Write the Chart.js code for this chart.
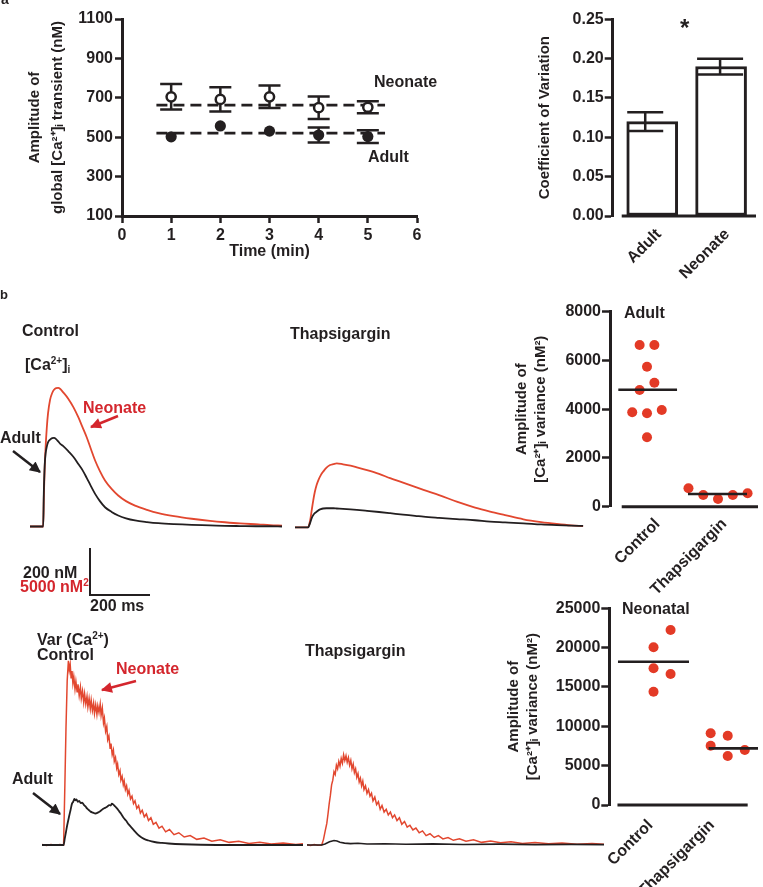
<!DOCTYPE html>
<html lang="en">
<head>
<meta charset="UTF-8">
<title>Global Ca2+ transients and variance</title>
<script src="https://cdn.jsdelivr.net/npm/chart.js@4.4.1/dist/chart.umd.min.js"></script>
<style>
  body { margin: 0; background: #fff; }
  #fig { position: relative; width: 763px; height: 887px; overflow: hidden;
         font-family: "Liberation Sans", Arial, Helvetica, sans-serif; font-weight: bold; color: #231f20; }
  #fig canvas { position: absolute; }
  #fig svg { position: absolute; left: 0; top: 0; }
  .t { position: absolute; font-size: 16px; line-height: 16px; white-space: nowrap; }
  .red { color: #d4262d; }
  .t sup { font-size: 10px; line-height: 0; vertical-align: 6px; }
  .t sub { font-size: 10px; line-height: 0; vertical-align: -3px; }
</style>
</head>
<body>
<div id="fig">
  <canvas id="ampChart" width="440" height="275" style="left:0;top:0"></canvas>
  <canvas id="cvChart" width="323" height="290" style="left:440px;top:0"></canvas>
  <canvas id="caCtrl" width="253" height="230" style="left:30px;top:370px"></canvas>
  <canvas id="caThap" width="292" height="95" style="left:295px;top:440px"></canvas>
  <canvas id="varCtrl" width="263" height="205" style="left:42px;top:650px"></canvas>
  <canvas id="varThap" width="298" height="115" style="left:307px;top:740px"></canvas>
  <canvas id="adultDots" width="263" height="305" style="left:500px;top:290px"></canvas>
  <canvas id="neoDots" width="263" height="307" style="left:500px;top:580px"></canvas>

  <svg width="763" height="887">
    <defs>
      <marker id="headK" viewBox="0 0 10 10" refX="9" refY="5" markerWidth="13" markerHeight="11" markerUnits="userSpaceOnUse" orient="auto">
        <path d="M0,0 L10,5 L0,10 z" fill="#231f20"/>
      </marker>
      <marker id="headR" viewBox="0 0 10 10" refX="9" refY="5" markerWidth="13" markerHeight="11" markerUnits="userSpaceOnUse" orient="auto">
        <path d="M0,0 L10,5 L0,10 z" fill="#d4262d"/>
      </marker>
    </defs>
    <line x1="13" y1="451" x2="40" y2="472" stroke="#231f20" stroke-width="2.5" marker-end="url(#headK)"/>
    <line x1="118" y1="416" x2="91" y2="427" stroke="#d4262d" stroke-width="2.5" marker-end="url(#headR)"/>
    <line x1="136" y1="681" x2="102" y2="690" stroke="#d4262d" stroke-width="2.5" marker-end="url(#headR)"/>
    <line x1="33" y1="793" x2="60" y2="814" stroke="#231f20" stroke-width="2.5" marker-end="url(#headK)"/>
  </svg>

  <div class="t" style="left:1px;top:-9px;font-size:14px">a</div>
  <div class="t" style="left:0;top:287px;font-size:13px">b</div>
  <div class="t" style="left:374px;top:74px">Neonate</div>
  <div class="t" style="left:368px;top:149px">Adult</div>
  <div class="t" style="left:680px;top:16px;font-size:24px;line-height:24px">*</div>

  <div class="t" style="left:22px;top:323px">Control</div>
  <div class="t" style="left:25px;top:357px">[Ca<sup>2+</sup>]<sub>i</sub></div>
  <div class="t" style="left:290px;top:326px">Thapsigargin</div>
  <div class="t red" style="left:83px;top:400px">Neonate</div>
  <div class="t" style="left:0;top:430px">Adult</div>
  <div class="t" style="left:23px;top:565px">200 nM</div>
  <div class="t red" style="left:20px;top:579px">5000 nM<sup>2</sup></div>
  <div class="t" style="left:90px;top:598px">200 ms</div>
  <div class="t" style="left:37px;top:632px">Var (Ca<sup>2+</sup>)</div>
  <div class="t" style="left:37px;top:647px">Control</div>
  <div class="t red" style="left:116px;top:661px">Neonate</div>
  <div class="t" style="left:12px;top:771px">Adult</div>
  <div class="t" style="left:305px;top:643px">Thapsigargin</div>
  <div class="t" style="left:624px;top:305px">Adult</div>
  <div class="t" style="left:622px;top:601px">Neonatal</div>
</div>

<script>
// ---- a: amplitude of the global transient over time ----
const minutes = [1, 2, 3, 4, 5];
const neonateAmp = [705, 692, 705, 650, 652];
const neonateErr = [65, 62, 57, 57, 30];
const adultAmp = [502, 557, 531, 511, 503];
const adultErr = [8, 10, 6, 38, 32];
const neonateMean = 663;
const adultMean = 521;
const meanSpan = [0.7, 5.35];

// ---- a: coefficient of variation ----
const groups = ['Adult', 'Neonate'];
const cvMean = [0.120, 0.190];
const cvErr = [0.012, 0.010];

// ---- b: [Ca2+]i transients (nM above diastolic), time in ms ----
const caCtrlT = [0, 44, 46, 49, 52, 56, 60, 67, 74, 80, 87, 94, 101, 110, 128, 145, 161, 175, 189, 203,
  217, 233, 250, 272, 294, 320, 350, 390, 428, 480, 539, 600, 650, 700, 761, 800, 840];
const caCtrlNeonate = [0, 0, 120, 250, 337, 420, 480, 540, 568, 582, 589, 590, 585, 572, 543, 507, 465, 423, 380, 330,
  281, 236, 196, 160, 132, 108, 89, 71, 57, 44, 33, 24, 18, 13, 9, 6, 4];
const caCtrlAdult = [0, 0, 140, 260, 310, 340, 358, 370, 376, 377, 372, 362, 352, 343, 320, 296, 266, 240, 207, 172,
  139, 108, 82, 62, 47, 35, 26, 19, 14, 10, 7, 5, 3, 2, 1, 1, 0];

const caThapT = [0, 44, 48, 52, 56, 61, 66, 72, 78, 86, 94, 105, 117, 128, 139, 160, 185, 206, 240, 280,
  317, 360, 400, 428, 480, 539, 600, 650, 700, 761, 820, 872, 920, 960];
const caThapNeonate = [0, 0, 15, 40, 75, 116, 150, 180, 201, 222, 237, 254, 265, 269, 272, 268, 262, 255, 243, 227,
  209, 190, 172, 159, 137, 109, 84, 67, 52, 34, 22, 14, 8, 5];
const caThapAdult = [0, 0, 10, 25, 40, 52, 60, 66, 72, 77, 80, 81, 81, 81, 80, 78, 76, 74, 70, 65,
  60, 54, 49, 45, 40, 35, 30, 24, 21, 17, 12, 9, 7, 6];

// ---- b: variance of [Ca2+]i (nM^2), time in ms ----
const varCtrlNeoT = [0, 15, 30, 45, 60, 72, 76, 80, 84, 88, 91, 94, 97, 100, 103, 106, 110, 113, 117, 120,
  124, 128, 131, 135, 139, 142, 146, 150, 153, 157, 161, 164, 168, 172, 175, 179, 183, 186, 190, 194,
  197, 201, 205, 208, 212, 216, 219, 223, 227, 230, 234, 238, 241, 245, 249, 252, 256, 260, 263, 267,
  271, 274, 278, 282, 286, 290, 295, 300, 305, 310, 316, 322, 328, 334, 341, 348, 355, 363, 371, 380,
  390, 400, 412, 425, 440, 456, 474, 494, 516, 540, 566, 594, 624, 656, 690, 726, 764, 804, 846, 870];
const varCtrlNeo = [60, -40, 50, -30, 40, 0, 6000, 12500, 17500, 19600, 18600, 19200, 17800, 18500, 17200, 17900, 16600, 17400, 16300, 17100,
  15900, 16800, 15600, 16400, 15200, 16100, 15000, 15800, 14700, 15600, 14500, 15400, 14300, 15100, 14000, 14900, 13900, 14800, 14100, 15000,
  13800, 14600, 13000, 13500, 12100, 12600, 11200, 11600, 10300, 10800, 9600, 10100, 8900, 9300, 8200, 8600, 7500, 7900, 6900, 7300,
  6400, 6800, 5900, 6300, 5400, 5800, 4900, 5200, 4400, 4700, 3900, 4200, 3400, 3700, 3000, 3300, 2600, 2900, 2200, 2400,
  1800, 2000, 1400, 1650, 1100, 1300, 850, 1000, 600, 750, 400, 550, 280, 400, 170, 300, 100, 210, 60, 130];
const varCtrlAdultT = [0, 30, 60, 72, 76, 80, 84, 90, 95, 100, 104, 108, 111, 115, 119, 124, 129, 134, 139, 145,
  150, 155, 162, 170, 178, 186, 194, 202, 210, 218, 224, 229, 233, 238, 244, 250, 257, 264, 272, 280,
  289, 300, 311, 325, 340, 355, 375, 400, 422, 470, 530, 650, 870];
const varCtrlAdult = [0, 0, 0, 0, 700, 1400, 2100, 3000, 3700, 4400, 4600, 4900, 4750, 4850, 4600, 4700, 4450, 4500, 4300, 4100,
  3900, 3750, 3550, 3450, 3350, 3450, 3600, 3800, 3950, 4100, 4250, 4200, 4400, 4300, 4100, 3900, 3600, 3300, 2900, 2600,
  2200, 1800, 1400, 950, 650, 480, 320, 220, 160, 80, 25, 0, 0];

const varThapNeoT = [0, 12, 24, 36, 49, 55, 60, 66, 70, 74, 78, 82, 86, 90, 94, 98, 102, 106, 110, 114,
  118, 122, 126, 130, 134, 138, 142, 146, 150, 154, 158, 162, 166, 170, 174, 178, 182, 186, 190, 195,
  200, 205, 210, 215, 220, 226, 232, 238, 244, 250, 257, 264, 271, 278, 285, 292, 300, 308, 316, 325,
  334, 343, 353, 363, 374, 385, 397, 410, 424, 438, 453, 470, 488, 508, 530, 555, 582, 612, 645, 680,
  718, 760, 805, 850, 900, 950, 990];
const varThapNeo = [40, -40, 50, -30, 0, 600, 1400, 2300, 3300, 4400, 5300, 6400, 6900, 7800, 7500, 8500, 8100, 8900, 8400, 9200,
  8700, 9600, 9000, 9500, 8800, 9300, 8500, 9000, 8100, 8600, 7700, 8100, 7200, 7600, 6700, 7100, 6300, 6800, 5900, 6300,
  5500, 5900, 5200, 5500, 4700, 5100, 4300, 4600, 3800, 4200, 3500, 3800, 3200, 3500, 2900, 3200, 2600, 2900, 2200, 2500,
  1900, 2100, 1600, 1800, 1300, 1500, 1000, 1200, 800, 1000, 650, 800, 500, 650, 400, 550, 280, 420, 230, 340,
  150, 260, 120, 220, 80, 160, 90];
const varThapAdultT = [0, 49, 60, 75, 90, 100, 110, 125, 145, 170, 200, 260, 330, 420, 520, 640, 760, 880, 990];
const varThapAdult = [0, 0, 100, 350, 480, 420, 300, 200, 150, 180, 100, 130, 80, 120, 60, 90, 40, 70, 40];

// ---- b: amplitude of [Ca2+]i variance per cell (nM^2) ----
const conds = ['Control', 'Thapsigargin'];
const adultCtrlVar = [6634, 6634, 5744, 5087, 4787, 3872, 3831, 3967, 2846];
const adultCtrlSpread = [-1, 1, 0, 1, -1, -2, 0, 2, 0];
const adultThapVar = [755, 480, 315, 480, 550];
const adultThapSpread = [-4, -2, 0, 2, 4];
const adultLines = [4800, 520];
const neoCtrlVar = [22245, 20046, 17376, 16652, 14402];
const neoCtrlSpread = [2, 0, 0, 2, 0];
const neoThapVar = [9117, 8812, 7540, 6990, 6230];
const neoThapSpread = [-2, 0, -2, 2, 0];
const neoLines = [18200, 7200];

// ---------------------------------------------------------------
const INK = '#231f20';
const RED_TRACE = '#e2472f';
const RED_DOT = '#e33a26';

Chart.defaults.font.family = '"Liberation Sans", Arial, Helvetica, sans-serif';
Chart.defaults.font.weight = 'bold';
Chart.defaults.color = INK;
Chart.defaults.animation = false;
Chart.defaults.responsive = false;
Chart.defaults.plugins.legend.display = false;
Chart.defaults.plugins.tooltip.enabled = false;

const xy = (xs, ys) => xs.map((x, i) => ({ x, y: ys[i] }));
const fixW = w => s => { s.width = w; };
const fixH = h => s => { s.height = h; };
const plain = v => String(v);

function valueAxis(o) {
  return {
    type: 'linear', min: o.min, max: o.max,
    afterFit: fixW(o.w),
    border: { color: INK, width: 3 },
    grid: { drawOnChartArea: false, tickLength: o.tl, tickWidth: 2.5, tickColor: INK },
    ticks: { stepSize: o.step, padding: o.pad, color: INK, font: { size: 16, weight: 'bold' }, callback: o.fmt || plain },
    title: { display: true, text: o.title, color: INK,
             font: { size: 15, weight: 'bold', lineHeight: o.lh }, padding: { top: o.tp, bottom: 0 } }
  };
}

// category labels on a linear axis; o.at = where each rotated label is anchored
function groupAxis(o) {
  return {
    type: 'linear', min: o.min, max: o.max, offset: false,
    afterFit: fixH(o.h),
    afterBuildTicks: s => { s.ticks = o.at.map(value => ({ value })); },
    border: { display: false },
    grid: { offset: false, drawOnChartArea: false, drawTicks: false },
    ticks: { minRotation: 45, maxRotation: 45, autoSkip: false, padding: o.pad, color: INK,
             font: { size: 16, weight: 'bold' }, callback: (v, i) => o.labels[i] }
  };
}

// error bars; like Prism, bars shorter than the symbol (minLen px) are hidden
function drawErrors(chart, xs, ys, es, cap, shift, minLen) {
  const { ctx, scales: { x, y } } = chart;
  ctx.save();
  ctx.strokeStyle = INK;
  ctx.lineWidth = 2.5;
  xs.forEach((xv, i) => {
    const px = x.getPixelForValue(xv) + (shift ? shift[i] : 0);
    const c = Array.isArray(cap) ? cap[i] : cap;
    const top = y.getPixelForValue(ys[i] + es[i]);
    const bot = y.getPixelForValue(ys[i] - es[i]);
    if (minLen && (bot - top) / 2 < minLen) return;
    ctx.beginPath();
    ctx.moveTo(px, top); ctx.lineTo(px, bot);
    ctx.moveTo(px - c, top); ctx.lineTo(px + c, top);
    ctx.moveTo(px - c, bot); ctx.lineTo(px + c, bot);
    ctx.stroke();
  });
  ctx.restore();
}

// x axis drawn as a separate line that starts right of the y axis (Prism style)
const baseLine = {
  id: 'baseLine',
  beforeDatasetsDraw(chart, args, opts) {
    const { ctx, scales: { x, y } } = chart;
    const py = y.getPixelForValue(0);
    ctx.save();
    ctx.strokeStyle = INK;
    ctx.lineWidth = 3;
    ctx.beginPath();
    ctx.moveTo(x.getPixelForValue(opts.from), py);
    ctx.lineTo(x.getPixelForValue(opts.to), py);
    ctx.stroke();
    ctx.restore();
  }
};

// ---- a, left ----
new Chart(document.getElementById('ampChart'), {
  type: 'scatter',
  data: {
    datasets: [
      { data: xy(minutes, neonateAmp), pointRadius: 4.6, pointBorderWidth: 2.5, borderColor: INK, backgroundColor: '#fff', order: 0 },
      { data: xy(minutes, adultAmp), pointRadius: 5.6, pointBorderWidth: 0, borderColor: INK, backgroundColor: INK, order: 0 },
      { type: 'line', data: meanSpan.map(x => ({ x, y: neonateMean })), borderColor: INK, borderWidth: 2.8,
        borderDash: [11, 6], pointRadius: 0, order: 2 },
      { type: 'line', data: meanSpan.map(x => ({ x, y: adultMean })), borderColor: INK, borderWidth: 2.8,
        borderDash: [11, 6], pointRadius: 0, order: 2 }
    ]
  },
  options: {
    layout: { padding: { left: 0, right: 23, top: 19, bottom: 0 } },
    scales: {
      x: {
        type: 'linear', min: 0, max: 6,
        afterFit: fixH(59),
        border: { color: INK, width: 3 },
        grid: { drawOnChartArea: false, tickLength: 7, tickWidth: 2.5, tickColor: INK },
        ticks: { stepSize: 1, padding: 3, color: INK, font: { size: 16, weight: 'bold' } },
        title: { display: true, text: 'Time (min)', color: INK, font: { size: 16, weight: 'bold' }, padding: { top: 0, bottom: 14 } }
      },
      y: valueAxis({ min: 100, max: 1100, step: 200, w: 122, tl: 7, pad: 2,
        title: ['Amplitude of', 'global [Ca²⁺]ᵢ transient (nM)'], lh: 1.5, tp: 24 })
    }
  },
  plugins: [{
    id: 'ampErrors',
    beforeDatasetsDraw(chart) {
      drawErrors(chart, minutes, neonateAmp, neonateErr, 11, null, 5.5);
      drawErrors(chart, minutes, adultAmp, adultErr, 11, null, 5.5);
    }
  }]
});

// ---- a, right ----
new Chart(document.getElementById('cvChart'), {
  type: 'bar',
  data: {
    datasets: [{
      data: xy([1, 2], cvMean), backgroundColor: '#fff', borderColor: INK, borderWidth: 3,
      borderSkipped: false, barThickness: 51
    }]
  },
  options: {
    layout: { padding: { left: 0, right: 7, top: 19.3, bottom: 0 } },
    scales: {
      x: groupAxis({ min: 0.426, max: 2.507, h: 74, pad: 9, at: [1.097, 2.087], labels: groups }),
      y: valueAxis({ min: 0, max: 0.25, step: 0.05, w: 172.7, tl: 8, pad: 1, fmt: v => v.toFixed(2),
        title: 'Coefficient of Variation', lh: 1.2, tp: 96 })
    },
    plugins: { baseLine: { from: 0.557, to: 2.507 } }
  },
  plugins: [baseLine, {
    id: 'cvErrors',
    afterDatasetsDraw(chart) { drawErrors(chart, [1, 2], cvMean, cvErr, [18, 23], [-7, -1]); }
  }]
});

// ---- b, traces ----
function traceChart(id, xmax, ymin, ymax, sets, extra) {
  return new Chart(document.getElementById(id), {
    type: 'scatter',
    data: {
      datasets: sets.map(s => ({
        data: xy(s.t, s.v), showLine: true, pointRadius: 0, borderColor: s.color,
        borderWidth: s.w, cubicInterpolationMode: s.smooth ? 'monotone' : 'default', order: s.order
      }))
    },
    options: {
      layout: { padding: 0 },
      scales: {
        x: { type: 'linear', display: false, min: 0, max: xmax },
        y: { type: 'linear', display: false, min: ymin, max: ymax }
      },
      plugins: extra ? extra.options : {}
    },
    plugins: extra ? extra.plugins : []
  });
}

const scaleBar = {
  id: 'scaleBar',
  afterDraw(chart, args, o) {
    const { ctx, scales: { x, y } } = chart;
    const x0 = x.getPixelForValue(o.t0), x1 = x.getPixelForValue(o.t0 + o.dt);
    const y0 = y.getPixelForValue(o.v0), y1 = y.getPixelForValue(o.v0 + o.dv);
    ctx.save();
    ctx.strokeStyle = INK;
    ctx.lineWidth = 2;
    ctx.beginPath();
    ctx.moveTo(x0, y1); ctx.lineTo(x0, y0); ctx.lineTo(x1, y0);
    ctx.stroke();
    ctx.restore();
  }
};

traceChart('caCtrl', 843.3, -312.8, 666, [
  { t: caCtrlT, v: caCtrlNeonate, color: RED_TRACE, w: 1.8, smooth: true, order: 1 },
  { t: caCtrlT, v: caCtrlAdult, color: INK, w: 1.8, smooth: true, order: 0 }
], { plugins: [scaleBar], options: { scaleBar: { t0: 200, dt: 200, v0: -291.5, dv: 200 } } });

traceChart('caThap', 973, -32.8, 371.5, [
  { t: caThapT, v: caThapNeonate, color: RED_TRACE, w: 1.8, smooth: true, order: 1 },
  { t: caThapT, v: caThapAdult, color: INK, w: 1.8, smooth: true, order: 0 }
]);

traceChart('varCtrl', 876.7, -1064, 20745, [
  { t: varCtrlNeoT, v: varCtrlNeo, color: RED_TRACE, w: 1.5, order: 1 },
  { t: varCtrlAdultT, v: varCtrlAdult, color: INK, w: 1.8, smooth: true, order: 0 }
]);

traceChart('varThap', 993.3, -1064, 11170, [
  { t: varThapNeoT, v: varThapNeo, color: RED_TRACE, w: 1.5, order: 1 },
  { t: varThapAdultT, v: varThapAdult, color: INK, w: 1.6, order: 0 }
]);

// ---- b, dot plots ----
function dotChart(id, o) {
  const pts = (vals, spread, c) => vals.map((v, i) => ({ x: c + spread[i] * o.step, y: v }));
  const bar = (m, span) => span.map(x => ({ x, y: m }));
  return new Chart(document.getElementById(id), {
    type: 'scatter',
    data: {
      datasets: [
        { data: pts(o.ctrl, o.ctrlSpread, 1), pointRadius: 5, pointBorderWidth: 0, backgroundColor: RED_DOT, order: 1 },
        { data: pts(o.thap, o.thapSpread, 2), pointRadius: 5, pointBorderWidth: 0, backgroundColor: RED_DOT, order: 1 },
        { type: 'line', data: bar(o.lines[0], o.spans[0]), borderColor: INK, borderWidth: 2.6, pointRadius: 0, order: 0 },
        { type: 'line', data: bar(o.lines[1], o.spans[1]), borderColor: INK, borderWidth: 2.6, pointRadius: 0, order: 0 }
      ]
    },
    options: {
      layout: { padding: { left: 0, right: o.padR, top: o.padT, bottom: 0 } },
      scales: {
        x: groupAxis({ min: o.xmin, max: o.xmax, h: o.h, pad: o.lpad, at: o.at, labels: conds }),
        y: valueAxis({ min: 0, max: o.ymax, step: o.ystep, w: o.w, tl: 8, pad: 1,
          title: ['Amplitude of', '[Ca²⁺]ᵢ variance (nM²)'], lh: 1.27, tp: o.tp })
      },
      plugins: { baseLine: { from: o.from, to: o.to } }
    },
    plugins: [baseLine]
  });
}

dotChart('adultDots', {
  ctrl: adultCtrlVar, ctrlSpread: adultCtrlSpread, thap: adultThapVar, thapSpread: adultThapSpread, lines: adultLines,
  step: 0.104, spans: [[0.596, 1.423], [1.577, 2.408]], xmin: 0.479, xmax: 2.563, from: 0.644, to: 2.563,
  at: [1.15, 2.09], lpad: 8,
  ymax: 8000, ystep: 2000, w: 110, h: 88.3, padT: 21.7, padR: 5, tp: 12.5
});

dotChart('neoDots', {
  ctrl: neoCtrlVar, ctrlSpread: neoCtrlSpread, thap: neoThapVar, thapSpread: neoThapSpread, lines: neoLines,
  step: 0.115, spans: [[0.521, 1.478], [1.743, 2.45]], xmin: 0.404, xmax: 2.408, from: 0.514, to: 2.269,
  at: [0.96, 1.79], lpad: 11,
  ymax: 25000, ystep: 5000, w: 109.3, h: 82, padT: 28.3, padR: 0, tp: 4.5
});
</script>
</body>
</html>
